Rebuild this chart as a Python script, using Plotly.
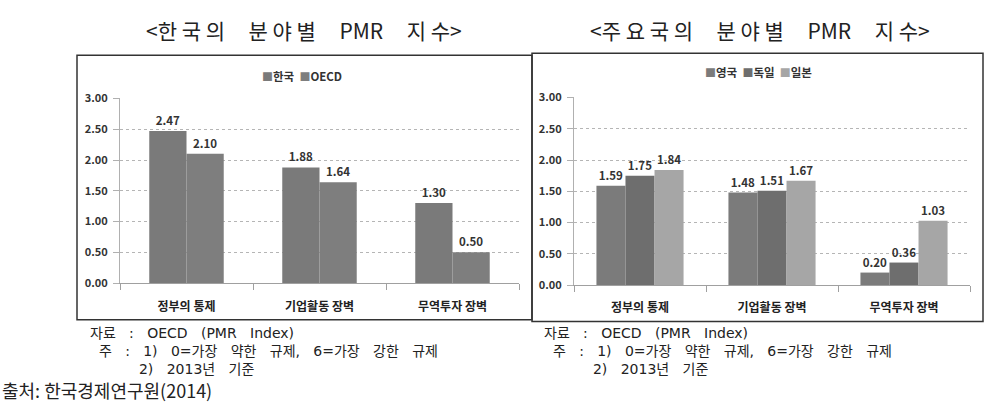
import plotly.graph_objects as go

categories = ["정부의 통제", "기업활동 장벽", "무역투자 장벽"]
korea = [2.47, 1.88, 1.30]
oecd = [2.10, 1.64, 0.50]
uk = [1.59, 1.48, 0.20]
germany = [1.75, 1.51, 0.36]
japan = [1.84, 1.67, 1.03]
yticks = [0, 0.5, 1.0, 1.5, 2.0, 2.5, 3.0]
ytick_text = ["0.00", "0.50", "1.00", "1.50", "2.00", "2.50", "3.00"]

W, H = 997, 420
FONT = "Noto Sans CJK KR"
LBL = dict(family=FONT, size=11.5, color="#333", weight="bold")

fig = go.Figure()

def add_bar(name, vals, color, xa, ya, width, offset):
    fig.add_trace(go.Bar(
        x=categories, y=vals, name=name, marker=dict(color=color, line=dict(width=0)),
        xaxis=xa, yaxis=ya, width=width, offset=offset,
        text=[f"{v:.2f}" for v in vals], textposition="outside",
        textfont=LBL, cliponaxis=False, showlegend=False))

series_left = [("한국", korea, "#7a7a7a"), ("OECD", oecd, "#7e7e7e")]
series_right = [("영국", uk, "#7b7b7b"), ("독일", germany, "#6e6e6e"), ("일본", japan, "#a6a6a6")]

for (n, v, c), off in zip(series_left, [-0.28, 0.0]):
    add_bar(n, v, c, "x", "y", 0.28, off)
for (n, v, c), off in zip(series_right, [-0.33, -0.11, 0.11]):
    add_bar(n, v, c, "x2", "y2", 0.22, off)

def px(x): return x / W
def py(y): return 1 - y / H

xcommon = dict(showgrid=False, showline=True, linecolor="#a0a0a0", linewidth=1,
               ticks="outside", tickson="boundaries", ticklen=6, tickcolor="#a0a0a0",
               tickfont=dict(family=FONT, size=12, color="#222", weight="bold"),
               ticklabelstandoff=12, fixedrange=True)
ycommon = dict(range=[0, 3], tickvals=yticks, ticktext=ytick_text, showgrid=True,
               gridcolor="#b5b5b5", griddash="dot", gridwidth=1, showline=True,
               linecolor="#b0b0b0", ticks="outside", ticklen=6, tickcolor="#b0b0b0",
               tickfont=dict(family=FONT, size=11, color="#333", weight="bold"),
               ticklabelstandoff=3, zeroline=False, fixedrange=True)

fig.update_layout(
    width=W, height=H, margin=dict(l=0, r=0, t=0, b=0),
    paper_bgcolor="white", plot_bgcolor="white", barmode="group",
    xaxis=dict(domain=[px(120), px(519)], anchor="y", **xcommon),
    yaxis=dict(domain=[py(285), py(93)], anchor="x", **ycommon),
    xaxis2=dict(domain=[px(574), px(970)], anchor="y2", **xcommon),
    yaxis2=dict(domain=[py(287), py(92)], anchor="x2", **ycommon),
    showlegend=False,
)

# legends drawn as text rows
LEG = dict(family=FONT, size=11.5, color="#333", weight="bold")
def legend_text(series):
    parts = [f"<span style='color:{c};font-size:11px'>■</span>{n}" for n, _, c in series]
    return "\u00a0\u00a0".join(parts)
fig.add_annotation(text=legend_text(series_left), xref="paper", yref="paper", x=px(302), y=py(70),
                   showarrow=False, font=LEG, xanchor="center", yanchor="middle")
fig.add_annotation(text=legend_text(series_right), xref="paper", yref="paper", x=px(758), y=py(65),
                   showarrow=False, font=LEG, xanchor="center", yanchor="middle")

# panel boxes
fig.add_shape(type="rect", xref="paper", yref="paper", x0=px(77), x1=px(532), y0=py(323), y1=py(48),
              line=dict(color="#333", width=1.5))
fig.add_shape(type="rect", xref="paper", yref="paper", x0=px(532), x1=px(983), y0=py(325), y1=py(46),
              line=dict(color="#333", width=1.5))

TITLE = dict(family=FONT, size=21, color="#222")
sp = "\u00a0"
g = sp * 5
fig.add_annotation(text="<한" + sp + "국" + sp + "의" + g + "분" + sp + "야" + sp + "별" + g + "PMR" + g + "지" + sp + "수>",
                   xref="paper", yref="paper", x=px(304), y=py(22), showarrow=False, font=TITLE,
                   xanchor="center", yanchor="middle")
fig.add_annotation(text="<주" + sp + "요" + sp + "국" + sp + "의" + g + "분" + sp + "야" + sp + "별" + g + "PMR" + g + "지" + sp + "수>",
                   xref="paper", yref="paper", x=px(760), y=py(22), showarrow=False, font=TITLE,
                   xanchor="center", yanchor="middle")

NOTE = dict(family="DejaVu Sans, Noto Sans CJK KR", size=14, color="#222")
s3 = sp * 3
lines = ["자료" + s3 + ":" + s3 + "OECD" + s3 + "(PMR" + s3 + "Index)",
         sp * 2 + "주" + s3 + ":" + s3 + "1)" + s3 + "0=가장" + s3 + "약한" + s3 + "규제," + s3 + "6=가장" + s3 + "강한" + s3 + "규제",
         sp * 11 + "2)" + s3 + "2013년" + s3 + "기준"]
note_text = "<br>".join(lines)
for x0 in (88, 542):
    fig.add_annotation(text=note_text, xref="paper", yref="paper", x=px(x0), y=py(326),
                       showarrow=False, font=NOTE, xanchor="left", yanchor="top", align="left")
fig.add_annotation(text="출처:" + sp + "한국경제연구원(2014)", xref="paper", yref="paper", x=px(0), y=py(396),
                   showarrow=False, font=dict(family=FONT, size=18, color="#222"),
                   xanchor="left", yanchor="middle")

fig.write_html("out.html")
